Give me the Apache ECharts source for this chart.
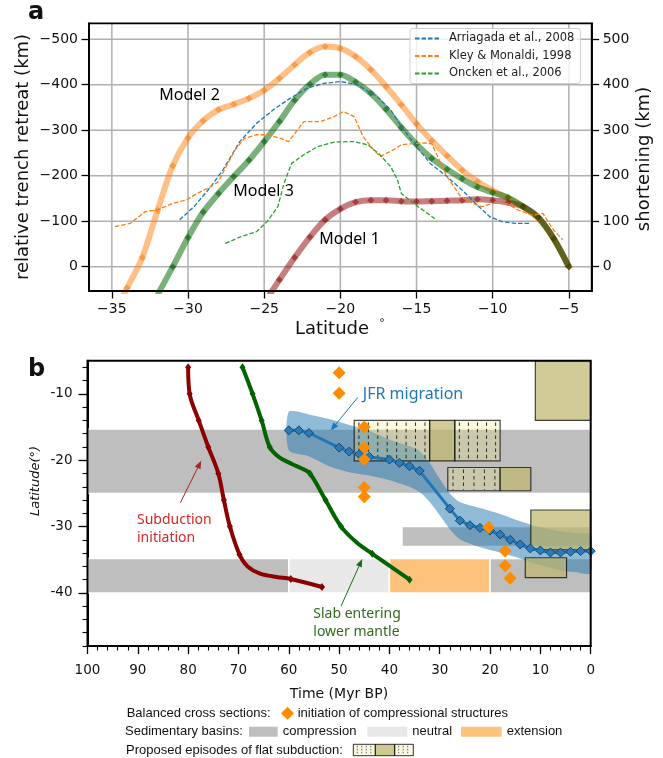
<!DOCTYPE html>
<html><head><meta charset="utf-8">
<script src="https://cdn.jsdelivr.net/npm/echarts@6/dist/echarts.min.js"></script>
<style>html,body{margin:0;padding:0;background:#fff}#c{width:663px;height:758px}</style>
</head><body><div id="c"></div>
<script>
// ================= Panel a data =================
const modelLat = [-35,-34,-33,-32,-31,-30,-29,-28,-27,-26,-25,-24,-23,-22,-21,-20,-19,-18,-17,-16,-15,-14,-13,-12,-11,-10,-9,-8,-7,-6,-5];
const model2 = [-115,-47,20,124,222,283,321,345,357,370,388,414,444,471,484,480,462,433,396,356,314,277,244,212,187,167,150,132,106,62,0];
const model3 = [null,null,null,-62,0,64,120,161,198,234,275,319,366,401,422,422,406,381,346,306,269,238,214,193,175,163,152,132,108,62,0];
const model1 = [null,null,null,null,null,null,null,null,null,null,-80,-29,20,65,103,127,142,146,146,144,143,144,145,146,148,146,141,132,108,62,0];

const arriLat = [-30.55,-29.6,-28.5,-27.7,-26.6,-25.5,-24.4,-23.3,-22.2,-21.1,-20.0,-18.9,-17.6,-16.7,-16.0,-15.0,-14.1,-13.0,-11.9,-11.0,-10.2,-9.4,-8.5,-7.6];
const arriVal = [103,132,176,213,275,315,345,370,392,403,407,400,374,345,308,264,227,198,165,135,110,99,95,95];
const kleyLat = [-34.8,-33.8,-32.8,-32.0,-31.0,-30.1,-29.4,-28.5,-28.0,-27.5,-26.9,-26.3,-25.5,-24.8,-23.9,-23.4,-22.8,-22.4,-21.3,-20.4,-19.8,-19.1,-18.5,-18.0,-17.4,-16.5,-16.0,-15.4,-14.5,-14.0,-13.0,-12.1,-11.3,-10.7,-10.0,-9.1,-8.3,-7.4,-6.7,-6.0,-5.4];
const kleyVal = [88,95,121,125,139,147,161,176,187,220,257,282,290,290,282,275,301,319,319,330,341,330,286,264,242,257,268,270,272,270,198,154,139,132,139,139,124,113,117,80,59];
const onckLat = [-27.55,-26.6,-25.5,-24.8,-24.1,-23.7,-23.2,-22.4,-21.5,-20.4,-19.1,-18.2,-17.4,-16.7,-16.25,-16.0,-14.9,-13.65];
const onckVal = [51,65,77,99,132,183,227,246,264,274,275,268,246,220,191,161,132,102];

const latTicksA = [-35,-30,-25,-20,-15,-10,-5];
const valTicksA = [0,100,200,300,400,500];

// ================= Panel b data =================
const subTime = [80.0,79.7,77.9,76.0,74.0,72.9,71.7,69.8,68.2,65.7,62.4,59.6,53.4];
const subLat  = [-6.0,-10.0,-14.0,-18.0,-22.0,-26.0,-30.0,-34.2,-36.0,-37.1,-37.6,-37.9,-39.1];
const subMark = [1,1,1,1,1,1,1,1,0,0,0,1,1];

const slabTime = [69.2,67.2,65.4,63.8,62.0,59.3,57.5,55.8,52.7,49.6,46.5,43.4,36.0];
const slabLat  = [-6.0,-10.0,-14.0,-18.0,-19.5,-20.6,-21.2,-22.0,-26.0,-30.0,-32.4,-34.1,-38.0];
const slabMark = [1,1,1,1,0,0,0,1,1,1,0,1,1];

const jfrTime = [60,58,56,50,48,46,44,40,38,36,34,28,26,24,22,20,18,16,14,12,10,8,6,4,2,0];
const jfrLat  = [-15.5,-15.5,-15.9,-18.1,-18.7,-19.1,-19.5,-19.9,-20.4,-20.9,-21.6,-27.3,-29.1,-29.8,-30.2,-30.6,-31.2,-32.0,-32.7,-33.3,-33.6,-33.9,-33.9,-33.8,-33.7,-33.7];

const bandTime  = [60,56,52,48,44,40,36,34,32,30,28,26,22,18,14,10,6,3,0];
const bandUpper = [-12.7,-13.1,-13.8,-14.7,-15.6,-16.9,-17.9,-18.6,-20.4,-22.8,-25.0,-26.3,-27.2,-28.1,-29.2,-30.1,-30.7,-31.0,-31.2];
const bandLower = [-18.5,-19.4,-20.9,-21.8,-22.3,-23.0,-24.0,-24.8,-26.3,-28.3,-30.4,-31.9,-33.1,-33.9,-34.8,-35.8,-36.6,-36.9,-37.0];

const bcsTime = [50,50,45,45,45,45,45,20.3,17,17,16];
const bcsLat  = [-6.8,-9.9,-15.0,-18.1,-19.9,-24.1,-25.5,-30.1,-33.7,-35.9,-37.8];

const basinStart  = [100,100,60,40,20,37.5];
const basinEnd    = [0,60,40,20,0,0];
const basinTop    = [-15.3,-34.8,-34.8,-34.8,-34.8,-30.0];
const basinBottom = [-25.0,-40.0,-40.0,-40.0,-40.0,-33.0];
const basinType   = ['compression','compression','neutral','extension','compression','compression'];

const flatStart  = [47,32,27,28.4,18,11,11.9,13];
const flatEnd    = [32,27,18,18,11.9,0,0,4.8];
const flatTop    = [-14,-14,-14,-21.1,-21.1,-5,-27.5,-34.7];
const flatBottom = [-20.1,-20.1,-20.1,-24.6,-24.6,-14,-33.5,-37.7];
const flatKind   = ['hatch','solid','hatch','hatch','solid','solid','solid','solid'];

const timeTicksB = [100,90,80,70,60,50,40,30,20,10,0];
const latTicksB = [-40,-30,-20,-10];
const latMinorB = [-48,-46,-44,-42,-40,-38,-36,-34,-32,-30,-28,-26,-24,-22,-20,-18,-16,-14,-12,-10,-8,-6];

// ================= build =================
const TF = 'DejaVu Sans';
const pairs = (xs, ys) => xs.map((x,i)=>[x, ys[i]]).filter(p=>p[1]!==null);
const minus = v => String(v).replace('-', '\u2212');

const GA = {x:89, y:23.3, w:502.7, h:267.7};
const GB = {x:87.5, y:360.7, w:503.2, h:285.3};

const basinColors = {compression:'#bebebe', neutral:'#e8e8e8', extension:'#fdc37d'};

function arrowEls(x1,y1,x2,y2,color,lw){
  const a=Math.atan2(y2-y1,x2-x1), L=8, W=3.2;
  const bx=x2-L*Math.cos(a), by=y2-L*Math.sin(a);
  const px=-Math.sin(a)*W, py=Math.cos(a)*W;
  return [
    {type:'line', z:100, shape:{x1:x1,y1:y1,x2:bx,y2:by}, style:{stroke:color,lineWidth:lw}},
    {type:'polygon', z:100, shape:{points:[[x2,y2],[bx+px,by+py],[bx-px,by-py]]}, style:{fill:color}}
  ];
}
function txt(text,x,y,opt){
  opt = opt||{};
  return {type:'text', z:100, x:x, y:y, rotation:opt.rot||0,
    style:{text:text, x:0, y:0, fill:opt.color||'#111',
      font:(opt.style||'normal')+' '+(opt.weight||'normal')+' '+(opt.size||14)+'px "'+(opt.family||TF)+'"',
      align:opt.align||'left', verticalAlign:opt.va||'middle'}};
}

const graphics = [];
// frames
graphics.push({type:'rect', z:100, shape:{x:GA.x,y:GA.y,width:GA.w,height:GA.h}, style:{fill:'transparent',stroke:'#000',lineWidth:1.8}});
graphics.push({type:'rect', z:100, shape:{x:GB.x,y:GB.y,width:GB.w,height:GB.h}, style:{fill:'transparent',stroke:'#000',lineWidth:2}});
// panel letters
graphics.push(txt('a',28,25,{size:24,weight:'bold',va:'bottom'}));
graphics.push(txt('b',28,382,{size:24,weight:'bold',va:'bottom'}));
// panel a titles
graphics.push(txt('relative trench retreat (km)',23,157,{size:18,align:'center',rot:Math.PI/2}));
graphics.push(txt('shortening (km)',644,159,{size:18,align:'center',rot:Math.PI/2}));
graphics.push(txt('Latitude',332,329,{size:18,align:'center'}));
graphics.push(txt('\u00b0',382,323,{size:11,align:'center'}));
graphics.push(txt('Model 2',159.3,95,{size:16,family:'Noto Sans',color:'#000'}));
graphics.push(txt('Model 3',233.3,191.7,{size:16,family:'Noto Sans',color:'#000'}));
graphics.push(txt('Model 1',319.3,239,{size:16,family:'Noto Sans',color:'#000'}));
// panel b titles
graphics.push(txt('Latitude(\u00b0)',36,481,{size:13,style:'italic',align:'center',rot:Math.PI/2}));
graphics.push(txt('Time (Myr BP)',339,694.7,{size:14,align:'center'}));
// panel b annotations
graphics.push(txt('JFR migration',362.8,394.7,{size:16,family:'Noto Sans',color:'#1f77b4'}));
graphics.push(...arrowEls(357.8,397.4,330.8,430.4,'#1f77b4',1));
graphics.push(txt('Subduction',137,520.3,{size:14,family:'Noto Sans',color:'#d62728'}));
graphics.push(txt('initiation',137,538.2,{size:14,family:'Noto Sans',color:'#d62728'}));
graphics.push(...arrowEls(180.3,502.8,201.2,460.7,'#a82424',1));
graphics.push(txt('Slab entering',313.3,614,{size:14,family:'Noto Sans',color:'#2f6a1f'}));
graphics.push(txt('lower mantle',313.3,631.8,{size:14,family:'Noto Sans',color:'#2f6a1f'}));
graphics.push(...arrowEls(341,606.2,362.2,559,'#1a6e1a',1));
// bottom legend
const LF = 'Liberation Sans';
graphics.push(txt('Balanced cross sections:',126.7,713.3,{size:13,family:LF}));
graphics.push({type:'polygon', z:100, shape:{points:[[287.5,706.8],[294,713.3],[287.5,719.8],[281,713.3]]}, style:{fill:'#ff8c00'}});
graphics.push(txt('initiation of compressional structures',297.7,713.3,{size:13,family:LF}));
graphics.push(txt('Sedimentary basins:',125,731.7,{size:13,family:LF}));
graphics.push({type:'rect', z:100, shape:{x:249,y:726.7,width:28.7,height:10}, style:{fill:basinColors.compression}});
graphics.push(txt('compression',282.7,731.7,{size:13,family:LF}));
graphics.push({type:'rect', z:100, shape:{x:367.3,y:726.7,width:40,height:10}, style:{fill:basinColors.neutral}});
graphics.push(txt('neutral',412.3,731.7,{size:13,family:LF}));
graphics.push({type:'rect', z:100, shape:{x:461,y:726.7,width:40.7,height:10}, style:{fill:basinColors.extension}});
graphics.push(txt('extension',506.7,731.7,{size:13,family:LF}));
graphics.push(txt('Proposed episodes of flat subduction:',126,750,{size:13,family:LF}));
(function(){
  const y0=744.3,h=11.4;
  const parts=[[353.3,22,'hatch'],[375.3,19.4,'solid'],[394.7,18.6,'hatch']];
  parts.forEach(p=>{
    graphics.push({type:'rect', z:100, shape:{x:p[0],y:y0,width:p[1],height:h},
      style:{fill:p[2]==='solid'?'rgba(189,183,107,0.75)':'rgba(240,235,170,0.35)',stroke:'rgba(0,0,0,0.8)',lineWidth:1}});
    if(p[2]==='hatch'){
      for(let x=p[0]+4;x<p[0]+p[1]-2;x+=4.5){
        graphics.push({type:'line', z:101, shape:{x1:x,y1:y0+1.5,x2:x,y2:y0+h-1.5}, style:{stroke:'#444',lineWidth:0.8,lineDash:[1.5,1.5]}});
      }
    }
  });
})();

const option = {
  animation:false,
  backgroundColor:'#fff',
  legend:{
    data:['Arriagada et al., 2008','Kley & Monaldi, 1998','Oncken et al., 2006'],
    orient:'vertical', left:410, top:28.5, itemWidth:25, itemHeight:12, itemGap:5.5,
    itemStyle:{opacity:0},
    textStyle:{fontFamily:TF, fontSize:11.5, color:'#222', padding:[0,0,0,4]},
    backgroundColor:'rgba(255,255,255,0.8)', borderColor:'#d0d0d0', borderWidth:1, borderRadius:3,
    padding:[4,6,4,4], selectedMode:false
  },
  grid:[
    {left:GA.x, top:GA.y, width:GA.w, height:GA.h, containLabel:false},
    {left:GB.x, top:GB.y, width:GB.w, height:GB.h, containLabel:false}
  ],
  xAxis:[
    {type:'value', gridIndex:0, min:-36.5, max:-3.5,
      axisLine:{show:true, onZero:false, lineStyle:{color:'#000',width:1.8}},
      axisTick:{show:true, length:7.5, customValues:latTicksA, lineStyle:{color:'#000',width:1.3}},
      axisLabel:{customValues:latTicksA, formatter:minus, fontFamily:TF, fontSize:14, color:'#111', margin:11},
      splitLine:{show:false}},
    {type:'value', gridIndex:1, min:0, max:100, interval:10, inverse:true,
      axisLine:{show:true, onZero:false, lineStyle:{color:'#000',width:2}},
      axisTick:{show:true, length:8, lineStyle:{color:'#000',width:1.3}},
      minorTick:{show:true, splitNumber:5, length:4.5, lineStyle:{color:'#000',width:1.1}},
      axisLabel:{fontFamily:TF, fontSize:13.5, color:'#111', margin:17.5, showMinLabel:true, showMaxLabel:true},
      splitLine:{show:false}}
  ],
  yAxis:[
    {type:'value', gridIndex:0, min:-53.5, max:535, position:'left',
      axisLine:{show:true, onZero:false, lineStyle:{color:'#000',width:1.8}},
      axisTick:{show:true, length:7.5, customValues:valTicksA, lineStyle:{color:'#000',width:1.3}},
      axisLabel:{customValues:valTicksA, formatter:v=>v===0?'0':'\u2212'+v, fontFamily:TF, fontSize:14, color:'#111', margin:11},
      splitLine:{show:false}},
    {type:'value', gridIndex:0, min:-53.5, max:535, position:'right',
      axisLine:{show:true, onZero:false, lineStyle:{color:'#000',width:1.8}},
      axisTick:{show:true, length:7.5, customValues:valTicksA, lineStyle:{color:'#000',width:1.3}},
      axisLabel:{customValues:valTicksA, fontFamily:TF, fontSize:14, color:'#111', margin:11},
      splitLine:{show:false}},
    {type:'value', gridIndex:1, min:-48, max:-5, position:'left',
      axisLine:{show:true, onZero:false, lineStyle:{color:'#000',width:2}},
      axisTick:{show:true, length:9, customValues:latTicksB, lineStyle:{color:'#000',width:1.3}},
      axisLabel:{customValues:latTicksB, fontFamily:TF, fontSize:13.5, color:'#111', margin:15},
      splitLine:{show:false}},
    {type:'value', gridIndex:1, min:-48, max:-5, position:'left',
      axisLine:{show:false, onZero:false},
      axisTick:{show:true, length:5, customValues:latMinorB, lineStyle:{color:'#000',width:1.1}},
      axisLabel:{show:false},
      splitLine:{show:false}}
  ],
  graphic:{elements:graphics},
  series:[
    // panel a grid lines
    {type:'custom', name:'gridV', xAxisIndex:0, yAxisIndex:0, z:0, silent:true,
      data:latTicksA.map(v=>[v,0]),
      renderItem:(params,api)=>{const cs=params.coordSys; const x=api.coord([api.value(0),0])[0];
        return {type:'line', shape:{x1:x,y1:cs.y,x2:x,y2:cs.y+cs.height}, style:{stroke:'#b0b0b0',lineWidth:1.5}};}},
    {type:'custom', name:'gridH', xAxisIndex:0, yAxisIndex:0, z:0, silent:true,
      data:valTicksA.map(v=>[-20,v]),
      renderItem:(params,api)=>{const cs=params.coordSys; const y=api.coord([-20,api.value(1)])[1];
        return {type:'line', shape:{x1:cs.x,y1:y,x2:cs.x+cs.width,y2:y}, style:{stroke:'#b0b0b0',lineWidth:1.5}};}},
    // models
    {type:'line', name:'Model 2', xAxisIndex:0, yAxisIndex:0, z:2, data:pairs(modelLat,model2), smooth:0.3,
      symbol:'diamond', symbolSize:7, showAllSymbol:true,
      lineStyle:{width:6, color:'rgba(255,127,14,0.5)'}, itemStyle:{color:'rgba(240,120,20,0.5)'}},
    {type:'line', name:'Model 1', xAxisIndex:0, yAxisIndex:0, z:2, data:pairs(modelLat,model1), smooth:0.3,
      symbol:'diamond', symbolSize:7, showAllSymbol:true,
      lineStyle:{width:6, color:'rgba(139,0,0,0.5)'}, itemStyle:{color:'rgba(130,0,0,0.5)'}},
    {type:'line', name:'Model 3', xAxisIndex:0, yAxisIndex:0, z:2, data:pairs(modelLat,model3), smooth:0.3,
      symbol:'diamond', symbolSize:7, showAllSymbol:true,
      lineStyle:{width:6, color:'rgba(0,105,0,0.52)'}, itemStyle:{color:'rgba(0,90,0,0.55)'}},
    // dashed references
    {type:'line', name:'Arriagada et al., 2008', xAxisIndex:0, yAxisIndex:0, z:3, data:pairs(arriLat,arriVal),
      symbol:'none', lineStyle:{width:1.3, color:'#1f77b4', type:[4.5,2]}, itemStyle:{color:'#1f77b4'}},
    {type:'line', name:'Kley & Monaldi, 1998', xAxisIndex:0, yAxisIndex:0, z:3, data:pairs(kleyLat,kleyVal),
      symbol:'none', lineStyle:{width:1.3, color:'#ff7f0e', type:[4.5,2]}, itemStyle:{color:'#ff7f0e'}},
    {type:'line', name:'Oncken et al., 2006', xAxisIndex:0, yAxisIndex:0, z:3, data:pairs(onckLat,onckVal),
      symbol:'none', lineStyle:{width:1.3, color:'#2ca02c', type:[4.5,2]}, itemStyle:{color:'#2ca02c'}},

    // panel b: basins
    {type:'custom', name:'basins', xAxisIndex:1, yAxisIndex:2, z:1, silent:true, clip:true,
      data:basinStart.map((s,i)=>[s,basinEnd[i],basinTop[i],basinBottom[i]]),
      renderItem:(params,api)=>{
        const i=params.dataIndex;
        const a=api.coord([api.value(0),api.value(2)]), b=api.coord([api.value(1),api.value(3)]);
        return {type:'rect', shape:{x:Math.min(a[0],b[0]),y:Math.min(a[1],b[1]),width:Math.abs(b[0]-a[0]),height:Math.abs(b[1]-a[1])},
          style:{fill:basinColors[basinType[i]], stroke:'#fff', lineWidth:1.5}};
      }},
    // JFR uncertainty band
    {type:'custom', name:'band', xAxisIndex:1, yAxisIndex:2, z:2, silent:true, clip:true,
      data:[[bandTime[0],bandUpper[0]]],
      renderItem:(params,api)=>{
        const pts=[];
        bandTime.forEach((t,i)=>pts.push(api.coord([t,bandUpper[i]])));
        for(let i=bandTime.length-1;i>=0;i--) pts.push(api.coord([bandTime[i],bandLower[i]]));
        return {type:'polygon', shape:{points:pts, smooth:0.25}, style:{fill:'rgba(31,119,180,0.5)'}};
      }},
    // flat subduction boxes
    {type:'custom', name:'flat', xAxisIndex:1, yAxisIndex:2, z:3, silent:true, clip:true,
      data:flatStart.map((s,i)=>[s,flatEnd[i],flatTop[i],flatBottom[i]]),
      renderItem:(params,api)=>{
        const i=params.dataIndex;
        const a=api.coord([api.value(0),api.value(2)]), b=api.coord([api.value(1),api.value(3)]);
        const x=Math.min(a[0],b[0]), y=Math.min(a[1],b[1]), w=Math.abs(b[0]-a[0]), h=Math.abs(b[1]-a[1]);
        const hatch=flatKind[i]==='hatch';
        const ch=[{type:'rect', shape:{x:x,y:y,width:w,height:h},
          style:{fill:hatch?'rgba(235,228,130,0.27)':'rgba(189,183,107,0.7)', stroke:'rgba(0,0,0,0.72)', lineWidth:1.2}}];
        if(hatch){
          const n=Math.max(1,Math.round(w/9.8));
          const step=w/n;
          for(let k=0;k<n;k++){
            const xx=x+step*(k+0.5);
            ch.push({type:'line', shape:{x1:xx,y1:y+2,x2:xx,y2:y+h-1}, style:{stroke:'rgba(20,20,20,0.85)',lineWidth:1,lineDash:[3.5,3]}});
          }
        }
        return {type:'group', children:ch};
      }},
    // JFR migration line
    {type:'line', name:'JFR', xAxisIndex:1, yAxisIndex:2, z:4, data:pairs(jfrTime,jfrLat),
      symbol:'diamond', symbolSize:9, showAllSymbol:true,
      lineStyle:{width:3, color:'#1f77b4'}, itemStyle:{color:'#2b7bb9', borderColor:'#17466f', borderWidth:1}},
    // subduction initiation
    {type:'line', name:'Subduction initiation', xAxisIndex:1, yAxisIndex:2, z:4, smooth:0.35,
      data:subTime.map((t,i)=>({value:[t,subLat[i]], symbol:subMark[i]?'diamond':'none'})),
      symbol:'diamond', symbolSize:[6,8], showAllSymbol:true,
      lineStyle:{width:4, color:'#8b0000'}, itemStyle:{color:'#8b0000'}},
    // slab entering lower mantle
    {type:'line', name:'Slab entering lower mantle', xAxisIndex:1, yAxisIndex:2, z:4, smooth:0.35,
      data:slabTime.map((t,i)=>({value:[t,slabLat[i]], symbol:slabMark[i]?'diamond':'none'})),
      symbol:'diamond', symbolSize:[6,8], showAllSymbol:true,
      lineStyle:{width:4, color:'#006400'}, itemStyle:{color:'#006400'}},
    // balanced cross sections
    {type:'scatter', name:'Balanced cross sections', xAxisIndex:1, yAxisIndex:2, z:5, data:pairs(bcsTime,bcsLat),
      symbol:'diamond', symbolSize:13, itemStyle:{color:'#ff8c00', opacity:1}}
  ]
};

const chart = echarts.init(document.getElementById('c'), null, {renderer:'canvas', width:663, height:758});
chart.setOption(option);
</script>
</body></html>
